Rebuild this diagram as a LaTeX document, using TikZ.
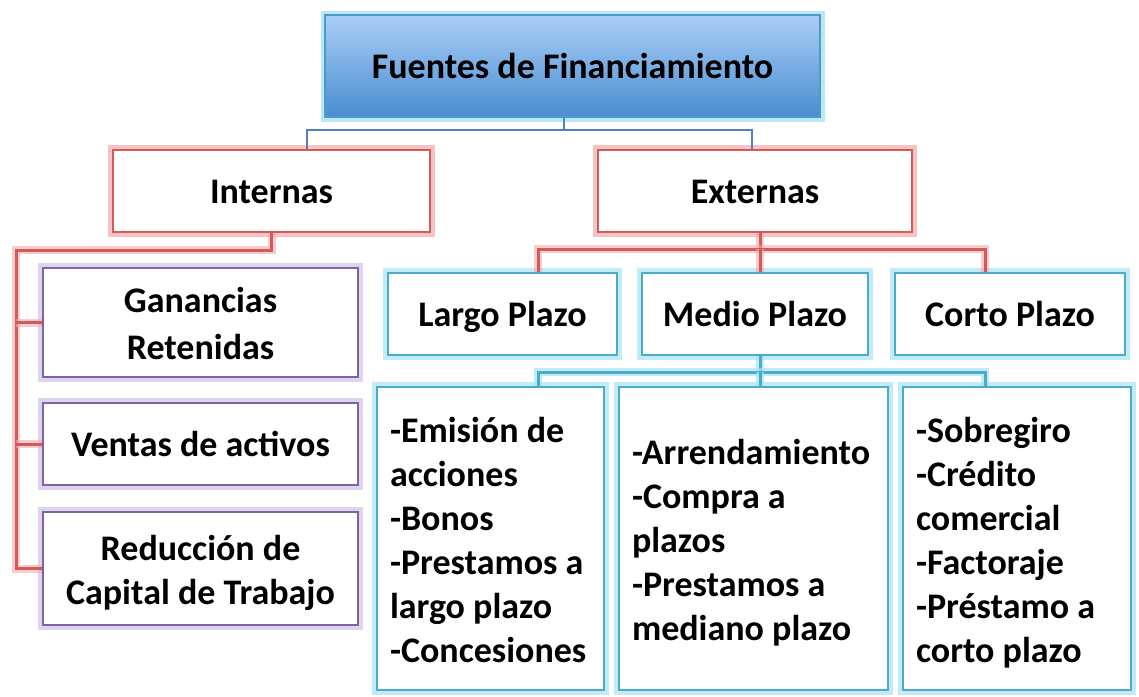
\documentclass[tikz,border=0pt]{standalone}
\usepackage{fontspec}
\setmainfont{Carlito}
\definecolor{rd}{HTML}{D25A5A}
\definecolor{rdglow}{HTML}{F2AAAA}
\definecolor{pu}{HTML}{8064A2}
\definecolor{puglow}{HTML}{D2C2E6}
\definecolor{cy}{HTML}{4BACC6}
\definecolor{cyglow}{HTML}{A6E2F2}
\definecolor{bl}{HTML}{4F81BD}
\definecolor{gtop}{HTML}{AACEF6}
\definecolor{gbot}{HTML}{4A8DD2}
\newcommand{\topstrut}{\rule{0pt}{41pt}}
\begin{document}
\begin{tikzpicture}[x=1pt,y=-1pt,
  font=\fontsize{36}{44}\selectfont\bfseries,
  gbox/.style 2 args={draw=#1, line width=2.6pt, fill=white, inner sep=0pt,
     preaction={draw=#2, line width=10pt, draw opacity=0.7}},
  oneline/.style={text height=30pt, text depth=5pt},
  redbox/.style={gbox={rd}{rdglow}, oneline},
  purbox/.style={gbox={pu}{puglow}, align=center},
  cybox/.style={gbox={cy}{cyglow}, oneline},
  listbox/.style={gbox={cy}{cyglow}, align=flush left, inner xsep=13pt},
  topbox/.style={draw=cy!60!bl, line width=1.5pt, top color=gtop, bottom color=gbot, inner sep=0pt, oneline,
     preaction={draw=cyglow, line width=9pt, draw opacity=0.8}},
  redline/.style={draw=rd, line width=3pt, preaction={draw=rdglow, line width=8pt, draw opacity=0.6}},
  cyline/.style={draw=cy, line width=3pt, preaction={draw=cyglow, line width=8pt, draw opacity=0.7}},
  blline/.style={draw=bl, line width=2.8pt},
]
\useasboundingbox (0,0) rectangle (1139,696);

% top
\node[topbox, minimum width=495pt, minimum height=102pt] (top) at (572.5,66) {Fuentes de Financiamiento};

% level 2
\node[redbox, minimum width=317pt, minimum height=82pt] (int) at (271.5,191) {Internas};
\node[redbox, minimum width=314pt, minimum height=82pt] (ext) at (755,191) {Externas};

% internas children
\node[purbox, minimum width=315pt, minimum height=109pt] (gan) at (200.5,322.5) {\topstrut Ganancias\\[3pt]Retenidas\strut};
\node[purbox, minimum width=315pt, minimum height=82pt, oneline] (ven) at (200.5,444) {Ventas de activos};
\node[purbox, minimum width=315pt, minimum height=113pt] (redu) at (200.5,568.5) {\topstrut Reducción de\\Capital de Trabajo\strut};

% externas children
\node[cybox, minimum width=229pt, minimum height=82pt] (larg) at (502.5,314) {Largo Plazo};
\node[cybox, minimum width=226pt, minimum height=82pt] (med) at (755,314) {Medio Plazo};
\node[cybox, minimum width=230pt, minimum height=82pt] (cort) at (1010,314) {Corto Plazo};

% lists
\node[listbox, minimum width=227pt, minimum height=303pt, text width=201pt] (l1) at (490.5,538.5)
  {\topstrut -Emisión de\\acciones\\-Bonos\\-Prestamos a\\largo plazo\\-Concesiones\strut};
\node[listbox, minimum width=269pt, minimum height=303pt, text width=243pt] (l2) at (753.5,538.5)
  {\topstrut -Arrendamiento\\-Compra a\\plazos\\-Prestamos a\\mediano plazo\strut};
\node[listbox, minimum width=228pt, minimum height=303pt, text width=202pt] (l3) at (1017,538.5)
  {\topstrut -Sobregiro\\-Crédito\\comercial\\-Factoraje\\-Préstamo a\\corto plazo\strut};

% blue connector
\coordinate (bj) at (564,130);
\draw[blline] (top.south -| bj) -- (bj);
\draw[blline] ([xshift=35.5pt]int.north) |- (bj) -| ([xshift=-3pt]ext.north);

% internas connector
\coordinate (rl) at (16,250);
\draw[redline] (int.south) |- (rl) |- (redu.west);
\draw[redline] (gan.west) -- (gan.west -| rl);
\draw[redline] (ven.west) -- (ven.west -| rl);

% externas connector
\coordinate (ej) at (760,249);
\draw[redline] ([xshift=5pt]ext.south) -- (ej);
\draw[redline] ([xshift=35.5pt]larg.north) |- (ej) -| ([xshift=-25pt]cort.north);
\draw[redline] (ej) -- ([xshift=5pt]med.north);

% plazo to list connector
\coordinate (cj) at (760,372);
\draw[cyline] ([xshift=5pt]med.south) -- (cj);
\draw[cyline] ([xshift=47.5pt]l1.north) |- (cj) -| ([xshift=-32pt]l3.north);
\draw[cyline] (cj) -- ([xshift=6.5pt]l2.north);
\end{tikzpicture}
\end{document}
